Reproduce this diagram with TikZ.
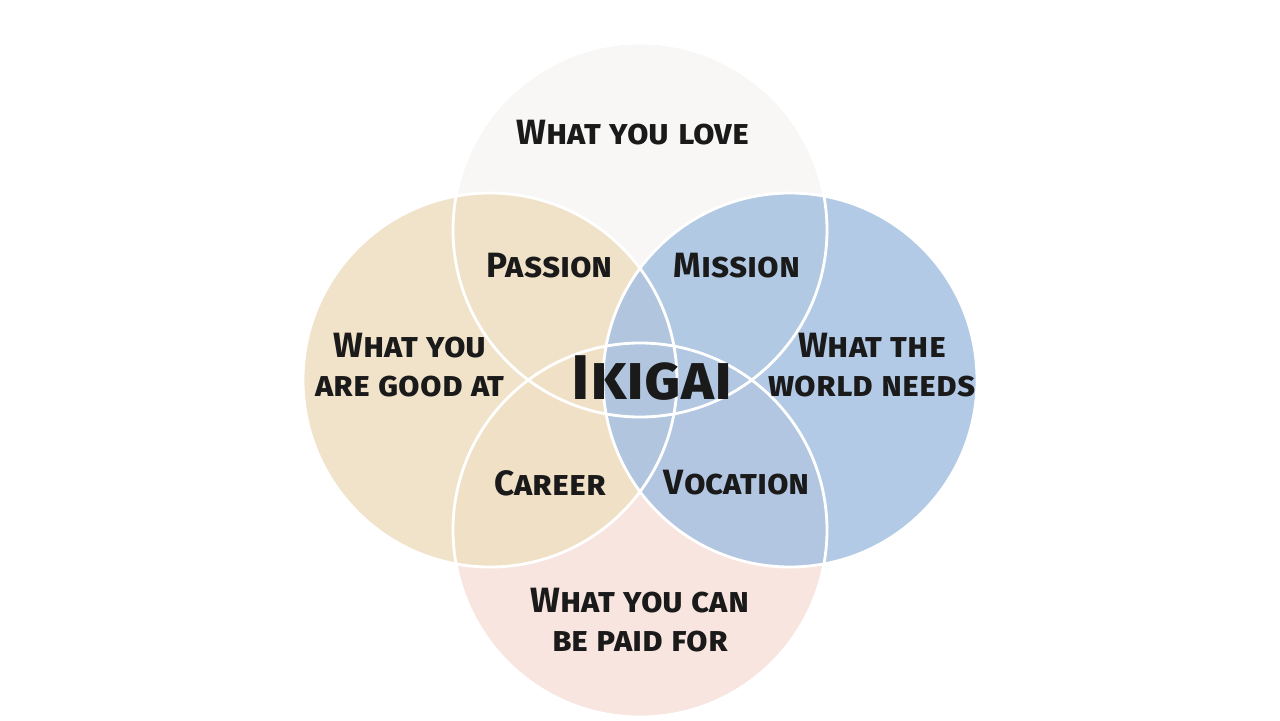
\documentclass[tikz,border=0pt]{standalone}
\usepackage{fontspec}
\setmainfont{Fira Sans}[UprightFont=* Bold]
\usepackage{xcolor}
\definecolor{lovecol}{HTML}{F8F7F6}
\definecolor{goodcol}{HTML}{F0E0C4}
\definecolor{worldcol}{HTML}{A9C3E2}
\definecolor{paidcol}{HTML}{F8E4DE}
\definecolor{inkcol}{HTML}{1A1A1A}

\begin{document}
\begin{tikzpicture}[x=0.02cm, y=-0.02cm,
    ring/.style={draw=white, line width=1.6pt, fill opacity=0.85},
    lbl/.style={text=inkcol, font=\fontsize{20}{22}\selectfont\scshape, align=center}]
    \useasboundingbox (0,0) rectangle (1280,720);

    % the four circles
    \fill[lovecol] (640,230) circle (187);
    \fill[paidcol, fill opacity=0.95] (640,530) circle (187);
    \fill[goodcol, fill opacity=0.9] (490,380) circle (187);
    \fill[worldcol, fill opacity=0.88] (790,380) circle (187);
    \draw[white, line width=1.6pt] (640,230) circle (187) (640,530) circle (187)
        (490,380) circle (187) (790,380) circle (187);

    % labels
    \node[lbl] (love) at (633,133) {What you love};
    \node[lbl] (good) at (410,365) {What you\\are good at};
    \node[lbl] (world) at (872,365) {What the\\world needs};
    \node[lbl] (paid) at (640,620) {What you can\\be paid for};
    \node[lbl] (passion) at (550,266) {Passion};
    \node[lbl] (mission) at (737,266) {Mission};
    \node[lbl] (career) at (550,483) {Career};
    \node[lbl] (vocation) at (737,483) {Vocation};
    \node[lbl, font=\fontsize{36}{40}\selectfont\scshape] (ikigai) at (652,378) {Ikigai};
\end{tikzpicture}
\end{document}
